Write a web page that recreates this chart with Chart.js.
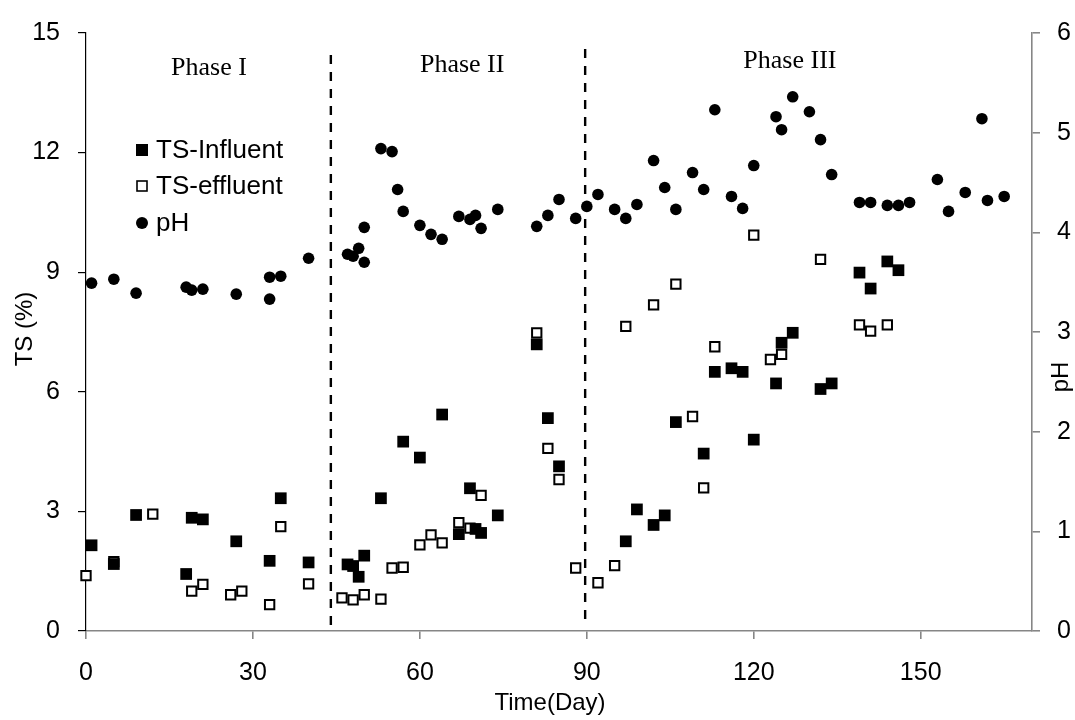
<!DOCTYPE html>
<html>
<head>
<meta charset="utf-8">
<script src="https://cdn.jsdelivr.net/npm/chart.js@4.4.0/dist/chart.umd.min.js"></script>
<style>
html, body { margin: 0; padding: 0; background: #fff; }
</style>
</head>
<body>
<canvas id="myChart" width="1075" height="720"></canvas>
<script>
// TS influent
var inflDays = [1, 5, 9, 18, 19, 21, 27, 33, 35, 40, 47, 48, 49, 50, 53, 57, 60, 64, 67, 69, 70, 71, 74, 81, 83, 85,
    97, 99, 102, 104, 106, 111, 113, 116, 118, 120, 124, 125, 127, 132, 134, 139, 141, 144, 146];
var inflTS = [2.15, 1.68, 2.91, 1.43, 2.84, 2.80, 2.25, 1.76, 3.33, 1.72, 1.67, 1.63, 1.36, 1.89, 3.33, 4.75, 4.35, 5.43, 2.43, 3.58, 2.56, 2.46, 2.90, 7.19, 5.34, 4.13,
    2.25, 3.05, 2.66, 2.90, 5.24, 4.45, 6.50, 6.59, 6.50, 4.80, 6.21, 7.23, 7.48, 6.07, 6.21, 8.99, 8.59, 9.27, 9.05];

// TS effluent
var effDays = [0, 5, 12, 19, 21, 26, 28, 33, 35, 40, 46, 48, 50, 53, 55, 57, 60, 62, 64, 67, 69, 71, 81, 83, 85, 88,
    92, 95, 97, 102, 106, 109, 111, 113, 120, 123, 125, 132, 139, 141, 144];
var effTS = [1.39, 1.74, 2.93, 1.00, 1.17, 0.91, 1.00, 0.66, 2.62, 1.18, 0.83, 0.78, 0.91, 0.80, 1.58, 1.60, 2.16, 2.41, 2.21, 2.72, 2.58, 3.40, 7.48, 4.58, 3.80, 1.58,
    1.21, 1.64, 7.64, 8.18, 8.70, 5.38, 3.59, 7.13, 9.93, 6.81, 6.94, 9.32, 7.68, 7.52, 7.68];

// pH
var phDays = [1, 5, 9, 18, 19, 21, 27, 33, 33, 35, 40, 47, 48, 49, 50, 50, 53, 55, 56, 57, 60, 62, 64, 67, 69, 70, 71, 74, 81, 83, 85, 88,
    90, 92, 95, 97, 99, 102, 104, 106, 109, 111, 113, 116, 118, 120, 124, 125, 127, 130, 132, 134, 139, 141, 144, 146, 148, 153, 155, 158, 161, 162, 165];
var phVals = [3.49, 3.53, 3.39, 3.45, 3.42, 3.43, 3.38, 3.55, 3.33, 3.56, 3.74, 3.78, 3.76, 3.84, 3.70, 4.05, 4.84, 4.81, 4.43, 4.21, 4.07, 3.98, 3.93, 4.16, 4.13, 4.17, 4.04, 4.23, 4.06, 4.17, 4.33, 4.14,
    4.26, 4.38, 4.23, 4.14, 4.28, 4.72, 4.45, 4.23, 4.60, 4.43, 5.23, 4.36, 4.24, 4.67, 5.16, 5.03, 5.36, 5.21, 4.93, 4.58, 4.30, 4.30, 4.27, 4.27, 4.30, 4.53, 4.21, 4.40, 5.14, 4.32, 4.36];

// phase boundaries and labels
var phaseEnds = [44, 89.7];
var phaseLineTop = [14.55, 14.75];
var phaseLineBottom = [0.15, 0.3];
var phaseNames = ['Phase I', 'Phase II', 'Phase III'];
var phaseLabelDay = [22.1, 67.6, 126.5];
var phaseLabelTS = [13.95, 14.02, 14.12];

var xTicks = [0, 30, 60, 90, 120, 150];

var sans = "'Liberation Sans', Arial, sans-serif";
var serif = "'Liberation Serif', 'Times New Roman', serif";

const toPts = (xs, ys) => xs.map((x, i) => ({x: x, y: ys[i]}));

var extras = {
    id: 'extras',
    afterDraw(chart) {
        let ctx = chart.ctx;
        let xs = chart.scales.x;
        let ys = chart.scales.y;
        ctx.save();
        ctx.fillStyle = '#000';

        // axis titles
        ctx.font = '24px ' + sans;
        ctx.textAlign = 'center';
        ctx.textBaseline = 'middle';
        ctx.fillText('Time(Day)', 550, 703);
        ctx.save();
        ctx.translate(25, 329);
        ctx.rotate(-Math.PI / 2);
        ctx.fillText('TS (%)', 0, 0);
        ctx.restore();
        ctx.save();
        ctx.translate(1061, 377);
        ctx.rotate(-Math.PI / 2);
        ctx.fillText('pH', 0, 0);
        ctx.restore();

        // phase labels
        ctx.font = '26px ' + serif;
        ctx.textBaseline = 'alphabetic';
        phaseNames.forEach((n, i) => {
            ctx.fillText(n, xs.getPixelForValue(phaseLabelDay[i]), ys.getPixelForValue(phaseLabelTS[i]));
        });

        // legend
        let rows = [150, 186, 223];
        let mx = 142;
        ctx.font = '26px ' + sans;
        ctx.textAlign = 'left';
        ctx.textBaseline = 'middle';
        ['TS-Influent', 'TS-effluent', 'pH'].forEach((t, i) => {
            let y = rows[i];
            if (i == 0) {
                ctx.fillStyle = '#000';
                ctx.fillRect(mx - 6, y - 6, 12, 12);
            } else if (i == 1) {
                ctx.fillStyle = '#fff';
                ctx.fillRect(mx - 5, y - 5, 10, 10);
                ctx.strokeStyle = '#000';
                ctx.lineWidth = 1.6;
                ctx.strokeRect(mx - 5, y - 5, 10, 10);
            } else {
                ctx.fillStyle = '#000';
                ctx.beginPath();
                ctx.arc(mx, y, 6, 0, Math.PI * 2);
                ctx.fill();
            }
            ctx.fillStyle = '#000';
            ctx.fillText(t, 156, y + 1);
        });
        ctx.restore();
    }
};

var datasets = [
    {
        label: 'pH',
        data: toPts(phDays, phVals),
        yAxisID: 'y2',
        pointStyle: 'circle',
        pointRadius: 5.8,
        backgroundColor: '#000',
        borderColor: '#000',
        borderWidth: 0,
        clip: false,
        order: 1
    },
    {
        label: 'TS-Influent',
        data: toPts(inflDays, inflTS),
        yAxisID: 'y',
        pointStyle: 'rect',
        pointRadius: 8.3,
        backgroundColor: '#000',
        borderColor: '#000',
        borderWidth: 0,
        clip: false,
        order: 2
    },
    {
        label: 'TS-effluent',
        data: toPts(effDays, effTS),
        yAxisID: 'y',
        pointStyle: 'rect',
        pointRadius: 6.6,
        backgroundColor: '#fff',
        borderColor: '#000',
        borderWidth: 2,
        clip: false,
        order: 3
    }
];

phaseEnds.forEach((d, i) => {
    datasets.push({
        label: 'phase' + i,
        data: [{x: d, y: phaseLineBottom[i]}, {x: d, y: phaseLineTop[i]}],
        yAxisID: 'y',
        showLine: true,
        pointRadius: 0,
        borderColor: '#000',
        borderWidth: 2.4,
        borderDash: [9, 8],
        order: 4
    });
});

var config = {
    type: 'scatter',
    data: {datasets: datasets},
    options: {
        responsive: false,
        animation: false,
        events: [],
        layout: {padding: {top: 19, left: 0, right: 0, bottom: 0}},
        plugins: {legend: {display: false}, tooltip: {enabled: false}},
        scales: {
            x: {
                type: 'linear',
                position: 'bottom',
                min: 0,
                max: 170,
                afterBuildTicks: (s) => { s.ticks = xTicks.map(v => ({value: v})); },
                afterFit: (s) => { s.height = 89; },
                border: {color: '#868686', width: 1.6},
                grid: {drawOnChartArea: false, drawTicks: true, tickLength: 8, color: '#868686', lineWidth: 1.6},
                ticks: {color: '#000', font: {family: sans, size: 25}, padding: 19, maxRotation: 0}
            },
            y: {
                position: 'left',
                min: 0,
                max: 15,
                afterFit: (s) => { s.width = 86; },
                border: {color: '#000', width: 1.2},
                grid: {drawOnChartArea: false, drawTicks: true, tickLength: 8, color: '#000', lineWidth: 1.2},
                ticks: {stepSize: 3, color: '#000', font: {family: sans, size: 25}, padding: 18}
            },
            y2: {
                position: 'right',
                min: 0,
                max: 6,
                afterFit: (s) => { s.width = 43; },
                border: {color: '#868686', width: 1.6},
                grid: {drawOnChartArea: false, drawTicks: true, tickLength: 8, color: '#868686', lineWidth: 1.6},
                ticks: {stepSize: 1, color: '#000', font: {family: sans, size: 25}, padding: 17}
            }
        }
    },
    plugins: [extras]
};

window.addEventListener('DOMContentLoaded', (event) => {
    myChart = new Chart(document.getElementById('myChart'), config);
});
</script>
</body>
</html>
